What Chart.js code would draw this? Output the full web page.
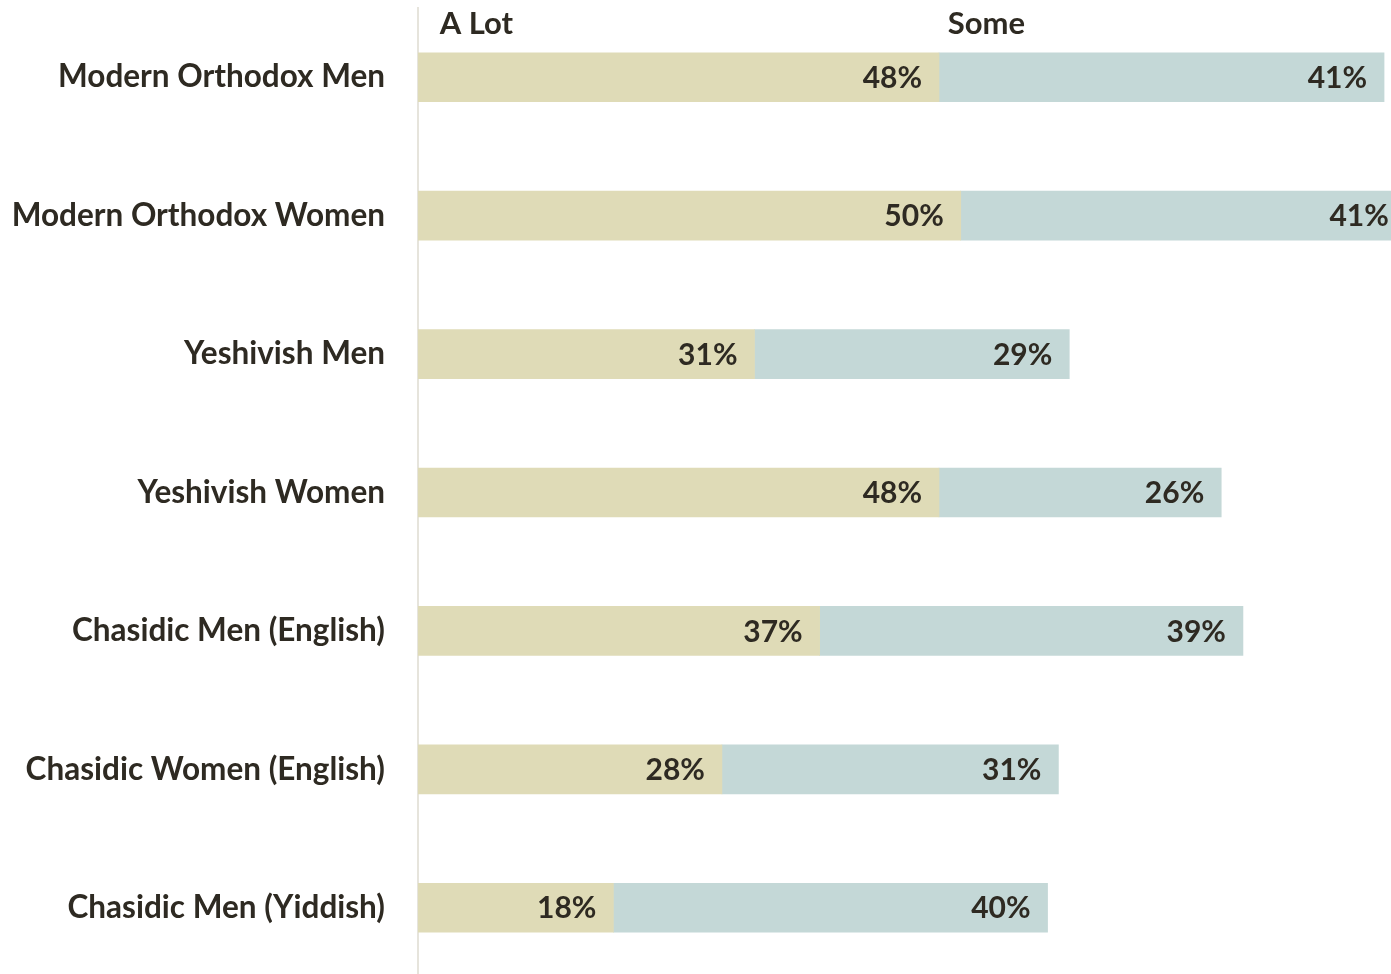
<!DOCTYPE html>
<html>
<head>
<meta charset="utf-8">
<script src="https://cdn.jsdelivr.net/npm/chart.js@4"></script>
<style>
  html, body { margin: 0; padding: 0; background: #fff; overflow: hidden; }
  #wrap { width: 1391px; height: 978px; }
</style>
</head>
<body>
<div id="wrap"><canvas id="chart" width="1391" height="978"></canvas></div>
<script>
// groups, top to bottom
const groups = ['Modern Orthodox Men', 'Modern Orthodox Women', 'Yeshivish Men', 'Yeshivish Women',
    'Chasidic Men (English)', 'Chasidic Women (English)', 'Chasidic Men (Yiddish)'];
const aLot = [48, 50, 31, 48, 37, 28, 18];
const some = [41, 41, 29, 26, 39, 31, 40];
const seriesNames = ['A Lot', 'Some'];

const FONT = 'Lato, "Liberation Sans", sans-serif';
const INK = '#2e2a22';

// value labels near the end of each bar segment
const valueLabels = {
    id: 'valueLabels',
    afterDatasetsDraw(chart) {
        const ctx = chart.ctx;
        ctx.save();
        ctx.font = 'bold 30px ' + FONT;
        ctx.fillStyle = INK;
        ctx.textAlign = 'right';
        ctx.textBaseline = 'middle';
        chart.data.datasets.forEach((ds, i) => {
            chart.getDatasetMeta(i).data.forEach((bar, j) => {
                ctx.fillText(ds.data[j] + '%', bar.x - 17, bar.y + 1);
            });
        });
        ctx.restore();
    }
};

// series names written above the first bar
const headers = {
    id: 'headers',
    afterDraw(chart) {
        const ctx = chart.ctx, x = chart.scales.x;
        ctx.save();
        ctx.font = 'bold 31px ' + FONT;
        ctx.fillStyle = INK;
        ctx.textAlign = 'left';
        ctx.textBaseline = 'middle';
        ctx.fillText(seriesNames[0], x.getPixelForValue(2), 24);
        ctx.fillText(seriesNames[1], x.getPixelForValue(48.8), 24);
        ctx.restore();
    }
};

new Chart(document.getElementById('chart'), {
    type: 'bar',
    data: {
        labels: groups,
        datasets: [
            { label: seriesNames[0], data: aLot, backgroundColor: '#dfdbb7', barThickness: 49 },
            { label: seriesNames[1], data: some, backgroundColor: '#c4d8d7', barThickness: 49 }
        ]
    },
    options: {
        indexAxis: 'y',
        responsive: false,
        animation: false,
        layout: { padding: { top: 8, right: 0, bottom: 1, left: 0 } },
        plugins: { legend: { display: false }, tooltip: { enabled: false } },
        scales: {
            x: { stacked: true, min: 0, max: 89.64, display: false },
            y: {
                stacked: true,
                grid: { display: false, drawTicks: false },
                border: { display: true, color: '#e6e4dc', width: 2 },
                ticks: { color: INK, padding: 33, font: { family: FONT, size: 31.5, weight: 'bold' } },
                afterFit(scale) { scale.width = 418; scale.paddingTop = 0; scale.paddingBottom = 0; }
            }
        }
    },
    plugins: [valueLabels, headers]
});
</script>
</body>
</html>
